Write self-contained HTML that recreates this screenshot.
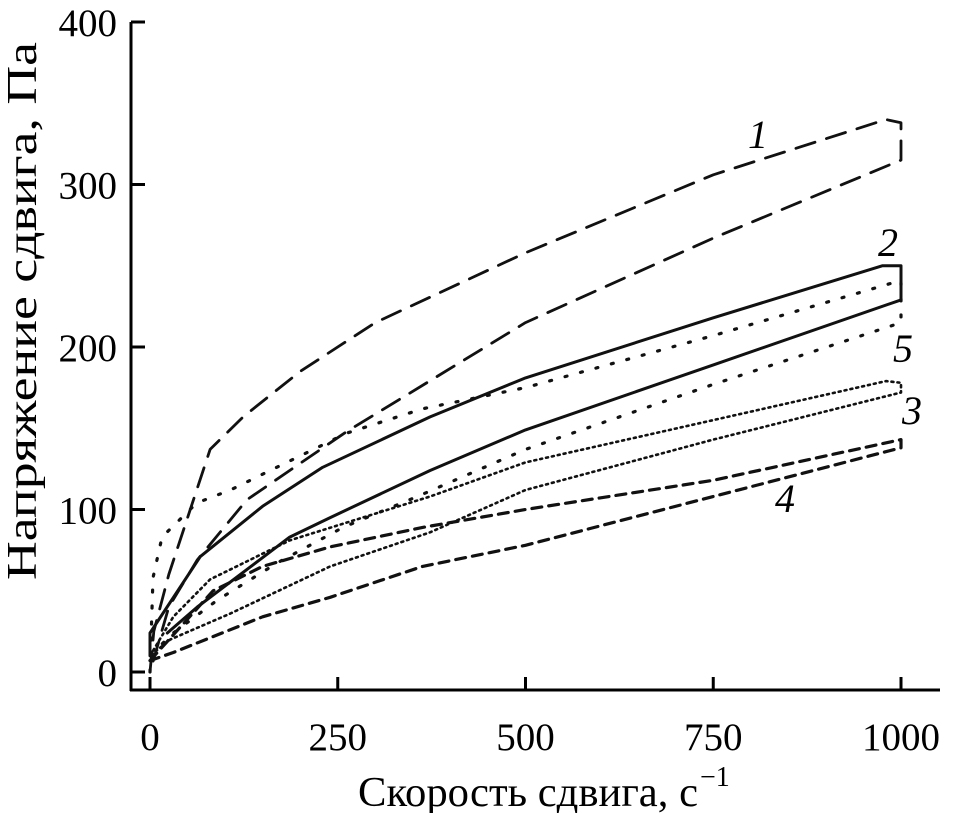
<!DOCTYPE html>
<html><head><meta charset="utf-8"><style>
html,body{margin:0;padding:0;background:#fff}
svg{display:block;font-family:"Liberation Serif",serif}
</style></head><body>
<svg id="chart" width="962" height="813" viewBox="0 0 962 813" xmlns="http://www.w3.org/2000/svg">
<g id="axes"></g>
<g id="series"></g>
<text x="358" y="806" font-size="42" textLength="340" lengthAdjust="spacingAndGlyphs">Скорость сдвига, с</text>
<text x="700" y="786" font-size="28">−1</text>
<text transform="translate(36,580) rotate(-90)" font-size="42" textLength="538" lengthAdjust="spacingAndGlyphs">Напряжение сдвига, Па</text>
</svg>
<script>
const xTicks=[0,250,500,750,1000];
const yTicks=[0,100,200,300,400];
const seriesLabels=["1","2","3","4","5"];
const s1Rate=[0,5,25,80,124,200,300,500,750,980,1000,1000,750,500,262,186,129,63,25,0];
const s1Stress=[0,25,60,137,157,185,215,258,306,340,338,315,267,215,148,124,106,69,40,0];
const s2Rate=[0,0,67,150,230,373,500,750,975,1000,1000,750,500,373,240,186,63,23];
const s2Stress=[10,24,71,102,126,157,181,218,250,250,229,189,149,124,95,83,40,24];
const s3Rate=[0,31,80,186,373,500,750,980,1000,1000,750,500,373,240,107,27,0];
const s3Stress=[10,34,57,81,108,129,155,179,178,172,143,112,86,65,36,20,10];
const s4Rate=[0,84,150,240,363,500,750,1000,1000,950,750,500,363,240,150,31,0];
const s4Stress=[7,50,65,77,89,100,118,143,138,132,108,78,65,46,34,12,7];
const s5Rate=[0,4,16,62,107,160,262,363,500,750,1000,1000,750,500,356,257,169,89,31,0];
const s5Stress=[0,58,83,104,112,124,147,162,175,207,241,215,177,137,108,89,67,44,24,10];
const X=v=>150+v*0.751;
const Y=p=>672-p*1.625;
const NS="http://www.w3.org/2000/svg";
const axes=document.getElementById('axes');
function mk(tag,attrs,parent){const e=document.createElementNS(NS,tag);for(const k in attrs)e.setAttribute(k,attrs[k]);parent.appendChild(e);return e;}
let l=mk('line',{x1:131,y1:22,x2:131,y2:691,stroke:'#000','stroke-width':3},axes);


l=mk('line',{x1:130,y1:690,x2:940,y2:690,stroke:'#000','stroke-width':3},axes);


xTicks.forEach(t=>{
 const tk=mk('line',{x1:X(t),y1:690,x2:X(t),y2:677,stroke:'#000','stroke-width':3},axes);
 
 
 const tx=mk('text',{x:X(t),y:750,'font-size':39,'text-anchor':'middle'},axes);
 tx.textContent=t;
 
 
});
yTicks.forEach(t=>{
 const tk=mk('line',{x1:131,y1:Y(t),x2:145,y2:Y(t),stroke:'#000','stroke-width':3},axes);
 
 
 const tx=mk('text',{x:117,y:Y(t)+14,'font-size':39,'text-anchor':'end'},axes);
 tx.textContent=t;
 
 
});
const sg=document.getElementById('series');
const defs=[
 [s1Rate,s1Stress,'20 12',2.8,'series-1-curve'],
 [s2Rate,s2Stress,'none',3,'series-2-curve'],
 [s3Rate,s3Stress,'2 4',2.6,'series-3-curve'],
 [s4Rate,s4Stress,'10 7',3.2,'series-4-curve'],
 [s5Rate,s5Stress,'2 14',3.2,'series-5-curve']
];
defs.forEach(d=>{
 const pts=d[0].map((v,i)=>X(v).toFixed(1)+','+Y(d[1][i]).toFixed(1)).join(' ');
 const p=mk('polyline',{points:pts,fill:'none',stroke:'#111','stroke-width':d[3],'stroke-dasharray':d[2],'stroke-linecap':'round','stroke-linejoin':'round'},sg);
 
 
});
const labPos=[[758,148],[888,256],[912,424],[785,512],[903,362]];
seriesLabels.forEach((s,i)=>{
 const t=mk('text',{x:labPos[i][0],y:labPos[i][1],'font-size':40,'font-style':'italic','text-anchor':'middle'},sg);
 t.textContent=s;
 
 
});
</script>
</body></html>
